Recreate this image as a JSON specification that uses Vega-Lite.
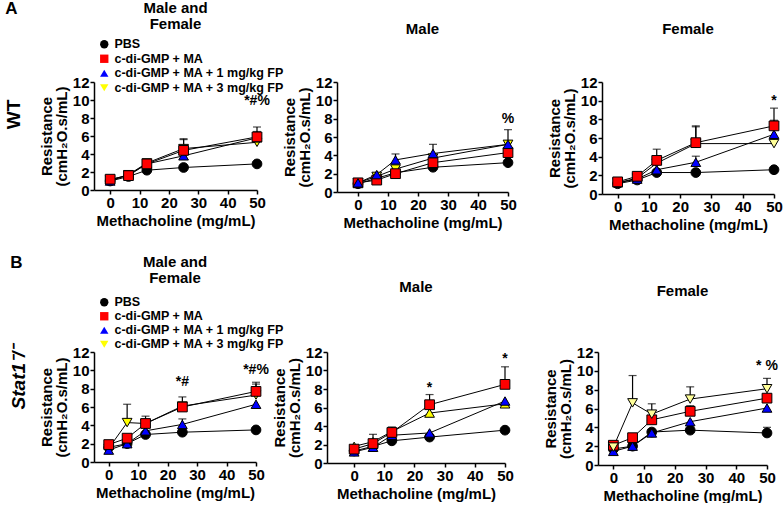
{
 "$schema": "https://vega.github.io/schema/vega-lite/v6.json",
 "padding": {"left": 5, "top": 0, "right": 0, "bottom": 0},
 "background": "white",
 "config": {
  "font": "Liberation Sans",
  "view": {"stroke": null},
  "title": {"font": "Liberation Sans", "fontSize": 15, "fontWeight": "bold", "color": "black", "lineHeight": 16},
  "axis": {"labelFont": "Liberation Sans", "labelFontSize": 15, "labelFontWeight": "bold", "labelColor": "black", "labelOverlap": false, "labelFlush": false, "titleFont": "Liberation Sans", "titleFontSize": 15, "titleFontWeight": "bold", "titleColor": "black", "titleLineHeight": 15, "domainColor": "black", "domainWidth": 1.5, "tickColor": "black", "tickWidth": 1.5, "tickSize": 4, "grid": false, "labelPadding": 1, "titlePadding": 3},
  "legend": {"labelFont": "Liberation Sans", "labelFontSize": 12.5, "labelFontWeight": "bold", "labelColor": "black", "labelLimit": 0}
 },
 "datasets": {
  "pts": [
   {"p":"A1","g":"PBS","x":0,"y":1.0},{"p":"A1","g":"PBS","x":6.25,"y":1.5},{"p":"A1","g":"PBS","x":12.5,"y":2.2},{"p":"A1","g":"PBS","x":25,"y":2.5},{"p":"A1","g":"PBS","x":50,"y":2.9},
   {"p":"A1","g":"c-di-GMP + MA + 3 mg/kg FP","x":0,"y":1.1},{"p":"A1","g":"c-di-GMP + MA + 3 mg/kg FP","x":6.25,"y":1.7},{"p":"A1","g":"c-di-GMP + MA + 3 mg/kg FP","x":12.5,"y":3.0,"e":3.4},{"p":"A1","g":"c-di-GMP + MA + 3 mg/kg FP","x":25,"y":4.6,"e":5.7},{"p":"A1","g":"c-di-GMP + MA + 3 mg/kg FP","x":50,"y":5.3,"e":6.2},
   {"p":"A1","g":"c-di-GMP + MA + 1 mg/kg FP","x":0,"y":1.0},{"p":"A1","g":"c-di-GMP + MA + 1 mg/kg FP","x":6.25,"y":1.7,"e":2.0},{"p":"A1","g":"c-di-GMP + MA + 1 mg/kg FP","x":12.5,"y":2.9},{"p":"A1","g":"c-di-GMP + MA + 1 mg/kg FP","x":25,"y":3.8},{"p":"A1","g":"c-di-GMP + MA + 1 mg/kg FP","x":50,"y":5.8,"e":6.5},
   {"p":"A1","g":"c-di-GMP + MA","x":0,"y":1.2},{"p":"A1","g":"c-di-GMP + MA","x":6.25,"y":1.6,"e":1.9},{"p":"A1","g":"c-di-GMP + MA","x":12.5,"y":2.9,"e":3.4},{"p":"A1","g":"c-di-GMP + MA","x":25,"y":4.4,"e":5.6},{"p":"A1","g":"c-di-GMP + MA","x":50,"y":5.9,"e":7.0},

   {"p":"A2","g":"PBS","x":0,"y":0.9},{"p":"A2","g":"PBS","x":6.25,"y":1.5},{"p":"A2","g":"PBS","x":12.5,"y":2.1},{"p":"A2","g":"PBS","x":25,"y":2.7},{"p":"A2","g":"PBS","x":50,"y":3.2},
   {"p":"A2","g":"c-di-GMP + MA + 3 mg/kg FP","x":0,"y":1.0},{"p":"A2","g":"c-di-GMP + MA + 3 mg/kg FP","x":6.25,"y":1.7},{"p":"A2","g":"c-di-GMP + MA + 3 mg/kg FP","x":12.5,"y":2.5,"e":2.9},{"p":"A2","g":"c-di-GMP + MA + 3 mg/kg FP","x":25,"y":3.7,"e":4.0},{"p":"A2","g":"c-di-GMP + MA + 3 mg/kg FP","x":50,"y":5.2,"e":6.8},
   {"p":"A2","g":"c-di-GMP + MA","x":0,"y":1.0},{"p":"A2","g":"c-di-GMP + MA","x":6.25,"y":1.3},{"p":"A2","g":"c-di-GMP + MA","x":12.5,"y":2.0},{"p":"A2","g":"c-di-GMP + MA","x":25,"y":3.2},{"p":"A2","g":"c-di-GMP + MA","x":50,"y":4.3},
   {"p":"A2","g":"c-di-GMP + MA + 1 mg/kg FP","x":0,"y":1.0},{"p":"A2","g":"c-di-GMP + MA + 1 mg/kg FP","x":6.25,"y":1.9},{"p":"A2","g":"c-di-GMP + MA + 1 mg/kg FP","x":12.5,"y":3.5,"e":4.15},{"p":"A2","g":"c-di-GMP + MA + 1 mg/kg FP","x":25,"y":4.2,"e":5.2},{"p":"A2","g":"c-di-GMP + MA + 1 mg/kg FP","x":50,"y":5.2,"e":5.6},

   {"p":"A3","g":"PBS","x":0,"y":1.1},{"p":"A3","g":"PBS","x":6.25,"y":1.5},{"p":"A3","g":"PBS","x":12.5,"y":2.3},{"p":"A3","g":"PBS","x":25,"y":2.3},{"p":"A3","g":"PBS","x":50,"y":2.6},
   {"p":"A3","g":"c-di-GMP + MA + 3 mg/kg FP","x":0,"y":1.2},{"p":"A3","g":"c-di-GMP + MA + 3 mg/kg FP","x":6.25,"y":1.7},{"p":"A3","g":"c-di-GMP + MA + 3 mg/kg FP","x":12.5,"y":3.3},{"p":"A3","g":"c-di-GMP + MA + 3 mg/kg FP","x":25,"y":5.4,"e":7.2},{"p":"A3","g":"c-di-GMP + MA + 3 mg/kg FP","x":50,"y":5.4,"e":5.9},
   {"p":"A3","g":"c-di-GMP + MA + 1 mg/kg FP","x":0,"y":1.2},{"p":"A3","g":"c-di-GMP + MA + 1 mg/kg FP","x":6.25,"y":1.6},{"p":"A3","g":"c-di-GMP + MA + 1 mg/kg FP","x":12.5,"y":2.6},{"p":"A3","g":"c-di-GMP + MA + 1 mg/kg FP","x":25,"y":3.4,"e":4.05},{"p":"A3","g":"c-di-GMP + MA + 1 mg/kg FP","x":50,"y":6.4,"e":7.9},
   {"p":"A3","g":"c-di-GMP + MA","x":0,"y":1.3},{"p":"A3","g":"c-di-GMP + MA","x":6.25,"y":1.9},{"p":"A3","g":"c-di-GMP + MA","x":12.5,"y":3.6,"e":4.8},{"p":"A3","g":"c-di-GMP + MA","x":25,"y":5.5,"e":7.3},{"p":"A3","g":"c-di-GMP + MA","x":50,"y":7.3,"e":9.2},

   {"p":"B1","g":"PBS","x":0,"y":1.6},{"p":"B1","g":"PBS","x":6.25,"y":2.0},{"p":"B1","g":"PBS","x":12.5,"y":3.0},{"p":"B1","g":"PBS","x":25,"y":3.25},{"p":"B1","g":"PBS","x":50,"y":3.5},
   {"p":"B1","g":"c-di-GMP + MA + 3 mg/kg FP","x":0,"y":1.5},{"p":"B1","g":"c-di-GMP + MA + 3 mg/kg FP","x":6.25,"y":4.3,"e":6.3},{"p":"B1","g":"c-di-GMP + MA + 3 mg/kg FP","x":12.5,"y":4.2},{"p":"B1","g":"c-di-GMP + MA + 3 mg/kg FP","x":25,"y":6.1},{"p":"B1","g":"c-di-GMP + MA + 3 mg/kg FP","x":50,"y":7.3,"e":8.5},
   {"p":"B1","g":"c-di-GMP + MA + 1 mg/kg FP","x":0,"y":1.3},{"p":"B1","g":"c-di-GMP + MA + 1 mg/kg FP","x":6.25,"y":2.0},{"p":"B1","g":"c-di-GMP + MA + 1 mg/kg FP","x":12.5,"y":3.4},{"p":"B1","g":"c-di-GMP + MA + 1 mg/kg FP","x":25,"y":4.1,"e":4.7},{"p":"B1","g":"c-di-GMP + MA + 1 mg/kg FP","x":50,"y":6.3},
   {"p":"B1","g":"c-di-GMP + MA","x":0,"y":1.9},{"p":"B1","g":"c-di-GMP + MA","x":6.25,"y":2.6},{"p":"B1","g":"c-di-GMP + MA","x":12.5,"y":4.2,"e":5.0},{"p":"B1","g":"c-di-GMP + MA","x":25,"y":6.0,"e":7.1},{"p":"B1","g":"c-di-GMP + MA","x":50,"y":7.7,"e":8.7},

   {"p":"B2","g":"PBS","x":0,"y":1.3},{"p":"B2","g":"PBS","x":6.25,"y":1.8},{"p":"B2","g":"PBS","x":12.5,"y":2.4},{"p":"B2","g":"PBS","x":25,"y":2.8},{"p":"B2","g":"PBS","x":50,"y":3.55},
   {"p":"B2","g":"c-di-GMP + MA + 3 mg/kg FP","x":0,"y":1.8},{"p":"B2","g":"c-di-GMP + MA + 3 mg/kg FP","x":6.25,"y":2.3},{"p":"B2","g":"c-di-GMP + MA + 3 mg/kg FP","x":12.5,"y":3.4},{"p":"B2","g":"c-di-GMP + MA + 3 mg/kg FP","x":25,"y":5.4},{"p":"B2","g":"c-di-GMP + MA + 3 mg/kg FP","x":50,"y":6.4},
   {"p":"B2","g":"c-di-GMP + MA + 1 mg/kg FP","x":0,"y":1.2},{"p":"B2","g":"c-di-GMP + MA + 1 mg/kg FP","x":6.25,"y":1.7},{"p":"B2","g":"c-di-GMP + MA + 1 mg/kg FP","x":12.5,"y":3.0},{"p":"B2","g":"c-di-GMP + MA + 1 mg/kg FP","x":25,"y":3.25},{"p":"B2","g":"c-di-GMP + MA + 1 mg/kg FP","x":50,"y":6.7},
   {"p":"B2","g":"c-di-GMP + MA","x":0,"y":1.5},{"p":"B2","g":"c-di-GMP + MA","x":6.25,"y":2.1,"e":3.1},{"p":"B2","g":"c-di-GMP + MA","x":12.5,"y":3.3,"e":3.9},{"p":"B2","g":"c-di-GMP + MA","x":25,"y":6.3,"e":7.4},{"p":"B2","g":"c-di-GMP + MA","x":50,"y":8.5,"e":10.4},

   {"p":"B3","g":"PBS","x":0,"y":1.7},{"p":"B3","g":"PBS","x":6.25,"y":2.0},{"p":"B3","g":"PBS","x":12.5,"y":3.5},{"p":"B3","g":"PBS","x":25,"y":3.7},{"p":"B3","g":"PBS","x":50,"y":3.4,"e":4.0},
   {"p":"B3","g":"c-di-GMP + MA + 1 mg/kg FP","x":0,"y":1.45},{"p":"B3","g":"c-di-GMP + MA + 1 mg/kg FP","x":6.25,"y":2.0},{"p":"B3","g":"c-di-GMP + MA + 1 mg/kg FP","x":12.5,"y":3.4},{"p":"B3","g":"c-di-GMP + MA + 1 mg/kg FP","x":25,"y":4.6},{"p":"B3","g":"c-di-GMP + MA + 1 mg/kg FP","x":50,"y":6.05},
   {"p":"B3","g":"c-di-GMP + MA","x":0,"y":2.1},{"p":"B3","g":"c-di-GMP + MA","x":6.25,"y":2.9},{"p":"B3","g":"c-di-GMP + MA","x":12.5,"y":4.8},{"p":"B3","g":"c-di-GMP + MA","x":25,"y":5.7,"e":6.3},{"p":"B3","g":"c-di-GMP + MA","x":50,"y":7.1},
   {"p":"B3","g":"c-di-GMP + MA + 3 mg/kg FP","x":0,"y":1.9},{"p":"B3","g":"c-di-GMP + MA + 3 mg/kg FP","x":6.25,"y":6.6,"e":9.5},{"p":"B3","g":"c-di-GMP + MA + 3 mg/kg FP","x":12.5,"y":5.4,"e":6.5},{"p":"B3","g":"c-di-GMP + MA + 3 mg/kg FP","x":25,"y":7.0,"e":8.3},{"p":"B3","g":"c-di-GMP + MA + 3 mg/kg FP","x":50,"y":8.1,"e":9.2}
  ],
  "ann": [
   {"p":"A1","x":50,"y":9.9,"t":"*#%"},
   {"p":"A2","x":50,"y":8.0,"t":"%"},
   {"p":"A3","x":50,"y":10.0,"t":"*"},
   {"p":"B1","x":25,"y":8.7,"t":"*#"},
   {"p":"B1","x":50,"y":10.0,"t":"*#%"},
   {"p":"B2","x":25,"y":8.1,"t":"*"},
   {"p":"B2","x":50,"y":11.2,"t":"*"},
   {"p":"B3","x":50,"y":10.5,"t":"* %"}
  ]
 },
 "spacing": 22,
 "resolve": {"scale": {"shape": "independent", "fill": "independent"}, "legend": {"shape": "independent", "fill": "independent"}},
 "vconcat": [
  {
   "title": {"text": "A", "anchor": "start", "fontSize": 17, "fontWeight": "bold", "dy": 17, "offset": 0},
   "spacing": 30,
   "align": "each",
   "resolve": {"scale": {"shape": "independent", "fill": "independent"}, "legend": {"shape": "independent", "fill": "independent"}},
   "hconcat": [
    {
     "spacing": -2,
     "align": "each",
     "resolve": {"scale": {"shape": "independent", "fill": "independent"}, "legend": {"shape": "independent", "fill": "independent"}},
     "hconcat": [
      {
       "title": {"text": "WT", "orient": "left", "anchor": "middle", "fontSize": 19, "fontWeight": "bold", "offset": 15},
       "resolve": {"scale": {"shape": "independent", "fill": "independent"}, "legend": {"shape": "independent", "fill": "independent"}},
       "hconcat": [
        {
         "width": 163, "height": 108,
         "title": {"text": ["Male and", "Female"], "offset": 6},
         "encoding": {
          "x": {"field": "x", "type": "quantitative", "scale": {"domain": [-5.5, 50], "nice": false, "zero": false}, "axis": {"values": [0,10,20,30,40,50], "labelOverlap": false, "title": "Methacholine (mg/mL)"}},
          "y": {"field": "y", "type": "quantitative", "scale": {"domain": [0, 12], "nice": false}, "axis": {"values": [0,2,4,6,8,10,12], "labelOverlap": false, "title": ["Resistance", "(cmH₂O.s/mL)"]}}
         },
         "layer": [
          {"data": {"name": "pts"}, "transform": [{"filter": "datum.p=='A1' && datum.e!=null"}], "mark": {"type": "rule", "color": "black", "strokeWidth": 1.2},
           "encoding": {"y2": {"field": "e"}}},
          {"data": {"name": "pts"}, "transform": [{"filter": "datum.p=='A1' && datum.e!=null"}], "mark": {"type": "tick", "orient": "horizontal", "color": "black", "size": 8, "thickness": 1.2},
           "encoding": {"y": {"field": "e", "type": "quantitative", "axis": {"values": [0,2,4,6,8,10,12], "labelOverlap": false, "title": ["Resistance", "(cmH₂O.s/mL)"]}}}},
          {"data": {"name": "pts"}, "transform": [{"filter": "datum.p=='A1'"}], "mark": {"type": "line", "color": "black", "strokeWidth": 1},
           "encoding": {"detail": {"field": "g"}}},
          {"data": {"name": "pts"}, "transform": [{"filter": "datum.p=='A1'"}], "mark": {"type": "point", "filled": true, "stroke": "black", "strokeWidth": 1, "size": 95, "opacity": 1, "fillOpacity": 1},
           "encoding": {
                        "shape": {"field": "g", "scale": {"domain": ["PBS", "c-di-GMP + MA", "c-di-GMP + MA + 1 mg/kg FP", "c-di-GMP + MA + 3 mg/kg FP"], "range": ["circle", "square", "triangle-up", "triangle-down"]}, "legend": {"orient": "none", "legendX": 4, "legendY": -44, "title": null, "symbolSize": 70, "symbolStrokeColor": "black", "symbolStrokeWidth": 1, "rowPadding": 1.5, "labelOffset": 4}},
                        "fill": {"field": "g", "scale": {"domain": ["PBS", "c-di-GMP + MA", "c-di-GMP + MA + 1 mg/kg FP", "c-di-GMP + MA + 3 mg/kg FP"], "range": ["#000000", "#ff0000", "#0000ff", "#ffff00"]}, "legend": {"orient": "none", "legendX": 4, "legendY": -44, "title": null, "symbolSize": 70, "symbolStrokeColor": "black", "symbolStrokeWidth": 1, "rowPadding": 1.5, "labelOffset": 4}}}},
          {"data": {"name": "ann"}, "transform": [{"filter": "datum.p=='A1'"}], "mark": {"type": "text", "fontSize": 14, "fontWeight": "bold", "color": "black"},
           "encoding": {"text": {"field": "t"}}}
         ]
        }
       ]
      },
      {
       "width": 171, "height": 110,
       "title": {"text": "Male", "offset": 38},
       "encoding": {
        "x": {"field": "x", "type": "quantitative", "scale": {"domain": [-7, 50], "nice": false, "zero": false}, "axis": {"values": [0,10,20,30,40,50], "labelOverlap": false, "title": "Methacholine (mg/mL)"}},
        "y": {"field": "y", "type": "quantitative", "scale": {"domain": [0, 12], "nice": false}, "axis": {"values": [0,2,4,6,8,10,12], "labelOverlap": false, "title": ["Resistance", "(cmH₂O.s/mL)"]}}
       },
       "layer": [
        {"data": {"name": "pts"}, "transform": [{"filter": "datum.p=='A2' && datum.e!=null"}], "mark": {"type": "rule", "color": "black", "strokeWidth": 1.2},
         "encoding": {"y2": {"field": "e"}}},
        {"data": {"name": "pts"}, "transform": [{"filter": "datum.p=='A2' && datum.e!=null"}], "mark": {"type": "tick", "orient": "horizontal", "color": "black", "size": 8, "thickness": 1.2},
         "encoding": {"y": {"field": "e", "type": "quantitative", "axis": {"values": [0,2,4,6,8,10,12], "labelOverlap": false, "title": ["Resistance", "(cmH₂O.s/mL)"]}}}},
        {"data": {"name": "pts"}, "transform": [{"filter": "datum.p=='A2'"}], "mark": {"type": "line", "color": "black", "strokeWidth": 1},
         "encoding": {"detail": {"field": "g"}}},
        {"data": {"name": "pts"}, "transform": [{"filter": "datum.p=='A2'"}], "mark": {"type": "point", "filled": true, "stroke": "black", "strokeWidth": 1, "size": 95, "opacity": 1, "fillOpacity": 1},
         "encoding": {
                      "shape": {"field": "g", "scale": {"domain": ["PBS", "c-di-GMP + MA", "c-di-GMP + MA + 1 mg/kg FP", "c-di-GMP + MA + 3 mg/kg FP"], "range": ["circle", "square", "triangle-up", "triangle-down"]}, "legend": null},
                      "fill": {"field": "g", "scale": {"domain": ["PBS", "c-di-GMP + MA", "c-di-GMP + MA + 1 mg/kg FP", "c-di-GMP + MA + 3 mg/kg FP"], "range": ["#000000", "#ff0000", "#0000ff", "#ffff00"]}, "legend": null}}},
        {"data": {"name": "ann"}, "transform": [{"filter": "datum.p=='A2'"}], "mark": {"type": "text", "fontSize": 14, "fontWeight": "bold", "color": "black"},
         "encoding": {"text": {"field": "t"}}}
       ]
      }
     ]
    },
    {
     "width": 172, "height": 112,
     "title": {"text": "Female", "offset": 38},
     "encoding": {
      "x": {"field": "x", "type": "quantitative", "scale": {"domain": [-5, 50], "nice": false, "zero": false}, "axis": {"values": [0,10,20,30,40,50], "labelOverlap": false, "title": "Methacholine (mg/mL)"}},
      "y": {"field": "y", "type": "quantitative", "scale": {"domain": [0, 12], "nice": false}, "axis": {"values": [0,2,4,6,8,10,12], "labelOverlap": false, "title": ["Resistance", "(cmH₂O.s/mL)"]}}
     },
     "layer": [
      {"data": {"name": "pts"}, "transform": [{"filter": "datum.p=='A3' && datum.e!=null"}], "mark": {"type": "rule", "color": "black", "strokeWidth": 1.2},
       "encoding": {"y2": {"field": "e"}}},
      {"data": {"name": "pts"}, "transform": [{"filter": "datum.p=='A3' && datum.e!=null"}], "mark": {"type": "tick", "orient": "horizontal", "color": "black", "size": 8, "thickness": 1.2},
       "encoding": {"y": {"field": "e", "type": "quantitative", "axis": {"values": [0,2,4,6,8,10,12], "labelOverlap": false, "title": ["Resistance", "(cmH₂O.s/mL)"]}}}},
      {"data": {"name": "pts"}, "transform": [{"filter": "datum.p=='A3'"}], "mark": {"type": "line", "color": "black", "strokeWidth": 1},
       "encoding": {"detail": {"field": "g"}}},
      {"data": {"name": "pts"}, "transform": [{"filter": "datum.p=='A3'"}], "mark": {"type": "point", "filled": true, "stroke": "black", "strokeWidth": 1, "size": 95, "opacity": 1, "fillOpacity": 1},
       "encoding": {
                    "shape": {"field": "g", "scale": {"domain": ["PBS", "c-di-GMP + MA", "c-di-GMP + MA + 1 mg/kg FP", "c-di-GMP + MA + 3 mg/kg FP"], "range": ["circle", "square", "triangle-up", "triangle-down"]}, "legend": null},
                    "fill": {"field": "g", "scale": {"domain": ["PBS", "c-di-GMP + MA", "c-di-GMP + MA + 1 mg/kg FP", "c-di-GMP + MA + 3 mg/kg FP"], "range": ["#000000", "#ff0000", "#0000ff", "#ffff99"]}, "legend": null}}},
      {"data": {"name": "ann"}, "transform": [{"filter": "datum.p=='A3'"}], "mark": {"type": "text", "fontSize": 14, "fontWeight": "bold", "color": "black"},
       "encoding": {"text": {"field": "t"}}}
     ]
    }
   ]
  },
  {
   "title": {"text": "B", "anchor": "start", "fontSize": 17, "fontWeight": "bold", "dy": 17, "offset": 0},
   "spacing": 29,
   "align": "each",
   "resolve": {"scale": {"shape": "independent", "fill": "independent"}, "legend": {"shape": "independent", "fill": "independent"}},
   "hconcat": [
    {
     "spacing": -12,
     "align": "each",
     "resolve": {"scale": {"shape": "independent", "fill": "independent"}, "legend": {"shape": "independent", "fill": "independent"}},
     "hconcat": [
      {
       "title": {"text": "Stat1⁻/⁻", "orient": "left", "anchor": "middle", "fontSize": 19, "fontWeight": "bold", "fontStyle": "italic", "offset": 10},
       "resolve": {"scale": {"shape": "independent", "fill": "independent"}, "legend": {"shape": "independent", "fill": "independent"}},
       "hconcat": [
        {
         "width": 162, "height": 110,
         "title": {"text": ["Male and", "Female"], "offset": 10},
         "encoding": {
          "x": {"field": "x", "type": "quantitative", "scale": {"domain": [-5, 50], "nice": false, "zero": false}, "axis": {"values": [0,10,20,30,40,50], "labelOverlap": false, "title": "Methacholine (mg/mL)"}},
          "y": {"field": "y", "type": "quantitative", "scale": {"domain": [0, 12], "nice": false}, "axis": {"values": [0,2,4,6,8,10,12], "labelOverlap": false, "title": ["Resistance", "(cmH₂O.s/mL)"]}}
         },
         "layer": [
          {"data": {"name": "pts"}, "transform": [{"filter": "datum.p=='B1' && datum.e!=null"}], "mark": {"type": "rule", "color": "black", "strokeWidth": 1.2},
           "encoding": {"y2": {"field": "e"}}},
          {"data": {"name": "pts"}, "transform": [{"filter": "datum.p=='B1' && datum.e!=null"}], "mark": {"type": "tick", "orient": "horizontal", "color": "black", "size": 8, "thickness": 1.2},
           "encoding": {"y": {"field": "e", "type": "quantitative", "axis": {"values": [0,2,4,6,8,10,12], "labelOverlap": false, "title": ["Resistance", "(cmH₂O.s/mL)"]}}}},
          {"data": {"name": "pts"}, "transform": [{"filter": "datum.p=='B1'"}], "mark": {"type": "line", "color": "black", "strokeWidth": 1},
           "encoding": {"detail": {"field": "g"}}},
          {"data": {"name": "pts"}, "transform": [{"filter": "datum.p=='B1'"}], "mark": {"type": "point", "filled": true, "stroke": "black", "strokeWidth": 1, "size": 95, "opacity": 1, "fillOpacity": 1},
           "encoding": {
                        "shape": {"field": "g", "scale": {"domain": ["PBS", "c-di-GMP + MA", "c-di-GMP + MA + 1 mg/kg FP", "c-di-GMP + MA + 3 mg/kg FP"], "range": ["circle", "square", "triangle-up", "triangle-down"]}, "legend": {"orient": "none", "legendX": 4, "legendY": -56, "title": null, "symbolSize": 70, "symbolStrokeColor": "black", "symbolStrokeWidth": 1, "rowPadding": 1, "labelOffset": 4}},
                        "fill": {"field": "g", "scale": {"domain": ["PBS", "c-di-GMP + MA", "c-di-GMP + MA + 1 mg/kg FP", "c-di-GMP + MA + 3 mg/kg FP"], "range": ["#000000", "#ff0000", "#0000ff", "#ffff00"]}, "legend": {"orient": "none", "legendX": 4, "legendY": -56, "title": null, "symbolSize": 70, "symbolStrokeColor": "black", "symbolStrokeWidth": 1, "rowPadding": 1, "labelOffset": 4}}}},
          {"data": {"name": "ann"}, "transform": [{"filter": "datum.p=='B1'"}], "mark": {"type": "text", "fontSize": 14, "fontWeight": "bold", "color": "black"},
           "encoding": {"text": {"field": "t"}}}
         ]
        }
       ]
      },
      {
       "width": 178, "height": 111,
       "title": {"text": "Male", "offset": 50},
       "encoding": {
        "x": {"field": "x", "type": "quantitative", "scale": {"domain": [-9, 50], "nice": false, "zero": false}, "axis": {"values": [0,10,20,30,40,50], "labelOverlap": false, "title": "Methacholine (mg/mL)"}},
        "y": {"field": "y", "type": "quantitative", "scale": {"domain": [0, 12], "nice": false}, "axis": {"values": [0,2,4,6,8,10,12], "labelOverlap": false, "title": ["Resistance", "(cmH₂O.s/mL)"]}}
       },
       "layer": [
        {"data": {"name": "pts"}, "transform": [{"filter": "datum.p=='B2' && datum.e!=null"}], "mark": {"type": "rule", "color": "black", "strokeWidth": 1.2},
         "encoding": {"y2": {"field": "e"}}},
        {"data": {"name": "pts"}, "transform": [{"filter": "datum.p=='B2' && datum.e!=null"}], "mark": {"type": "tick", "orient": "horizontal", "color": "black", "size": 8, "thickness": 1.2},
         "encoding": {"y": {"field": "e", "type": "quantitative", "axis": {"values": [0,2,4,6,8,10,12], "labelOverlap": false, "title": ["Resistance", "(cmH₂O.s/mL)"]}}}},
        {"data": {"name": "pts"}, "transform": [{"filter": "datum.p=='B2'"}], "mark": {"type": "line", "color": "black", "strokeWidth": 1},
         "encoding": {"detail": {"field": "g"}}},
        {"data": {"name": "pts"}, "transform": [{"filter": "datum.p=='B2'"}], "mark": {"type": "point", "filled": true, "stroke": "black", "strokeWidth": 1, "size": 95, "opacity": 1, "fillOpacity": 1},
         "encoding": {
                      "shape": {"field": "g", "scale": {"domain": ["PBS", "c-di-GMP + MA", "c-di-GMP + MA + 1 mg/kg FP", "c-di-GMP + MA + 3 mg/kg FP"], "range": ["circle", "square", "triangle-up", "triangle-up"]}, "legend": null},
                      "fill": {"field": "g", "scale": {"domain": ["PBS", "c-di-GMP + MA", "c-di-GMP + MA + 1 mg/kg FP", "c-di-GMP + MA + 3 mg/kg FP"], "range": ["#000000", "#ff0000", "#0000ff", "#ffff00"]}, "legend": null}}},
        {"data": {"name": "ann"}, "transform": [{"filter": "datum.p=='B2'"}], "mark": {"type": "text", "fontSize": 14, "fontWeight": "bold", "color": "black"},
         "encoding": {"text": {"field": "t"}}}
       ]
      }
     ]
    },
    {
     "width": 169, "height": 113,
     "title": {"text": "Female", "offset": 46},
     "encoding": {
      "x": {"field": "x", "type": "quantitative", "scale": {"domain": [-5, 50], "nice": false, "zero": false}, "axis": {"values": [0,10,20,30,40,50], "labelOverlap": false, "title": "Methacholine (mg/mL)"}},
      "y": {"field": "y", "type": "quantitative", "scale": {"domain": [0, 12], "nice": false}, "axis": {"values": [0,2,4,6,8,10,12], "labelOverlap": false, "title": ["Resistance", "(cmH₂O.s/mL)"]}}
     },
     "layer": [
      {"data": {"name": "pts"}, "transform": [{"filter": "datum.p=='B3' && datum.e!=null"}], "mark": {"type": "rule", "color": "black", "strokeWidth": 1.2},
       "encoding": {"y2": {"field": "e"}}},
      {"data": {"name": "pts"}, "transform": [{"filter": "datum.p=='B3' && datum.e!=null"}], "mark": {"type": "tick", "orient": "horizontal", "color": "black", "size": 8, "thickness": 1.2},
       "encoding": {"y": {"field": "e", "type": "quantitative", "axis": {"values": [0,2,4,6,8,10,12], "labelOverlap": false, "title": ["Resistance", "(cmH₂O.s/mL)"]}}}},
      {"data": {"name": "pts"}, "transform": [{"filter": "datum.p=='B3'"}], "mark": {"type": "line", "color": "black", "strokeWidth": 1},
       "encoding": {"detail": {"field": "g"}}},
      {"data": {"name": "pts"}, "transform": [{"filter": "datum.p=='B3'"}], "mark": {"type": "point", "filled": true, "stroke": "black", "strokeWidth": 1, "size": 95, "opacity": 1, "fillOpacity": 1},
       "encoding": {
                    "shape": {"field": "g", "scale": {"domain": ["PBS", "c-di-GMP + MA", "c-di-GMP + MA + 1 mg/kg FP", "c-di-GMP + MA + 3 mg/kg FP"], "range": ["circle", "square", "triangle-up", "triangle-down"]}, "legend": null},
                    "fill": {"field": "g", "scale": {"domain": ["PBS", "c-di-GMP + MA", "c-di-GMP + MA + 1 mg/kg FP", "c-di-GMP + MA + 3 mg/kg FP"], "range": ["#000000", "#ff0000", "#0000ff", "#ffff99"]}, "legend": null}}},
      {"data": {"name": "ann"}, "transform": [{"filter": "datum.p=='B3'"}], "mark": {"type": "text", "fontSize": 14, "fontWeight": "bold", "color": "black"},
       "encoding": {"text": {"field": "t"}}}
     ]
    }
   ]
  }
 ]
}
